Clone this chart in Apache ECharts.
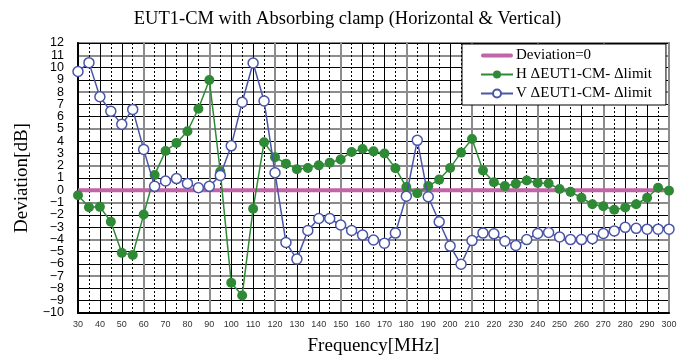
<!DOCTYPE html>
<html><head><meta charset="utf-8">
<script src="https://cdn.jsdelivr.net/npm/echarts@6/dist/echarts.min.js"></script>
<style>html,body{margin:0;padding:0;background:#fff}#c{width:695px;height:361px}</style>
</head><body><div id="c"></div>
<script>
var titleText = 'EUT1-CM with Absorbing clamp (Horizontal & Vertical)';
var xName = 'Frequency[MHz]';
var yName = 'Deviation[dB]';
var seriesNames = ['Deviation=0', 'H \u0394EUT1-CM- \u0394limit', 'V \u0394EUT1-CM- \u0394limit'];
var freqs = [30,35,40,45,50,55,60,65,70,75,80,85,90,95,100,105,110,115,120,125,130,135,140,145,150,155,160,165,170,175,180,185,190,195,200,205,210,215,220,225,230,235,240,245,250,255,260,265,270,275,280,285,290,295,300];
var hValues = [-0.4,-1.38,-1.35,-2.57,-5.1,-5.27,-1.98,1.25,3.2,3.86,4.81,6.64,8.99,1.53,-7.54,-8.57,-1.51,3.91,2.7,2.17,1.72,1.82,2.03,2.25,2.51,3.12,3.36,3.17,2.99,1.8,0.26,-0.24,0.34,0.87,1.82,3.07,4.18,1.61,0.65,0.34,0.53,0.79,0.6,0.55,0.1,-0.13,-0.61,-1.14,-1.3,-1.59,-1.4,-1.14,-0.61,0.21,-0.03];
var vValues = [9.68,10.4,7.62,6.43,5.37,6.59,3.33,0.32,0.76,0.95,0.56,0.21,0.32,1.21,3.62,7.17,10.37,7.27,1.43,-4.26,-5.61,-3.28,-2.3,-2.3,-2.83,-3.28,-3.65,-4.05,-4.32,-3.49,-0.48,4.07,-0.53,-2.57,-4.55,-6.03,-4.1,-3.49,-3.55,-4.15,-4.5,-4.02,-3.52,-3.44,-3.81,-4.02,-4.02,-3.94,-3.52,-3.31,-3.02,-3.1,-3.17,-3.17,-3.17];
var zeroValues = freqs.map(function(){return 0;});
var xMin = 30, xMax = 300, yMin = -10, yMax = 12;

function pairs(vals){ return freqs.map(function(f,i){return [f, vals[i]];}); }
function fmtY(v){ return String(v).replace('-', '\u2212'); }
var serif = '"Liberation Serif", "DejaVu Serif", serif';
var sans = '"Liberation Sans", Arial, sans-serif';
var majorY = [];
for (var v = yMin; v <= yMax; v++) { majorY.push(((v - yMin) % 3 === 0 && v !== yMin) ? '#8c8c8c' : 'rgba(0,0,0,0)'); }

var chart = echarts.init(document.getElementById('c'), null, {renderer:'canvas'});
var hidden = {axisLabel:{show:false}, axisLine:{show:false}, axisTick:{show:false}};
var yLabelStyle = {fontFamily:sans, fontSize:12.5, color:'#000', margin:14};
chart.setOption({
  animation:false,
  backgroundColor:'#fff',
  title:{text:titleText, left:'center', top:5, textStyle:{fontFamily:serif, fontSize:18.5, fontWeight:'normal', color:'#000'}},
  grid:{left:78, right:26, top:43, bottom:41, show:true, borderColor:'#8c8c8c', borderWidth:2, backgroundColor:'#fff'},
  legend:{
    orient:'vertical', left:462, top:44,
    backgroundColor:'#fff', borderColor:'#000', borderWidth:1,
    padding:[4,14,4,18], itemGap:4, itemWidth:32, itemHeight:10,
    textStyle:{fontFamily:serif, fontSize:15, color:'#000', padding:[0,0,0,-2]},
    data:[
      {name:seriesNames[0], icon:'path://M2,4 L32,4 A2,2 0 0 1 32,8 L2,8 A2,2 0 0 1 2,4 Z'},
      {name:seriesNames[1]},
      {name:seriesNames[2]}
    ]
  },
  xAxis:[
    {type:'value', min:xMin, max:xMax, interval:10, position:'bottom',
     name:xName, nameLocation:'middle', nameGap:24, nameTextStyle:{fontFamily:serif, fontSize:19, color:'#000'},
     axisLabel:{fontFamily:sans, fontSize:9, color:'#333', margin:7, showMinLabel:true, showMaxLabel:true},
     axisLine:{show:true, onZero:false, lineStyle:{color:'#000', width:2}}, axisTick:{show:false},
     splitLine:{show:true, lineStyle:{color:'#000', width:1}}},
    Object.assign({type:'value', min:xMin, max:xMax, interval:5, position:'bottom',
     splitLine:{show:true, lineStyle:{color:'#000', width:1, type:[2,2]}}}, hidden),
    Object.assign({type:'value', min:xMin, max:xMax, interval:30, position:'bottom',
     splitLine:{show:true, lineStyle:{color:'#8c8c8c', width:2}}}, hidden)
  ],
  yAxis:[
    {type:'value', min:yMin, max:yMax, interval:1, position:'left',
     name:yName, nameLocation:'middle', nameGap:46, nameTextStyle:{fontFamily:serif, fontSize:19, color:'#000'},
     axisLabel:Object.assign({interval:0, showMinLabel:false, showMaxLabel:false, formatter:fmtY}, yLabelStyle),
     axisLine:{show:true, onZero:false, lineStyle:{color:'#000', width:2}}, axisTick:{show:false},
     splitLine:{show:true, lineStyle:{color:'#000', width:1}}},
    {type:'value', min:yMin, max:yMax, interval:1, position:'left', offset:0,
     axisLabel:Object.assign({interval:0, showMinLabel:true, showMaxLabel:true,
       formatter:function(v){ return (v === yMin || v === yMax) ? fmtY(v) : ''; }}, yLabelStyle),
     axisLine:{show:false}, axisTick:{show:false},
     splitLine:{show:true, lineStyle:{color:majorY, width:2}}}
  ],
  series:[
    {name:seriesNames[0], type:'line', data:pairs(zeroValues), showSymbol:false, symbol:'none',
     lineStyle:{color:'#c264a8', width:4}, itemStyle:{color:'#c264a8'}, z:3},
    {name:seriesNames[1], type:'line', data:pairs(hValues), symbol:'circle', symbolSize:10,
     lineStyle:{color:'#2f8a35', width:1.5}, itemStyle:{color:'#2f8a35'}, z:4},
    {name:seriesNames[2], type:'line', data:pairs(vValues), symbol:'circle', symbolSize:10,
     lineStyle:{color:'#4a55a8', width:1.5}, itemStyle:{color:'#fff', borderColor:'#4a55a8', borderWidth:1.5}, z:5}
  ]
});
</script></body></html>
